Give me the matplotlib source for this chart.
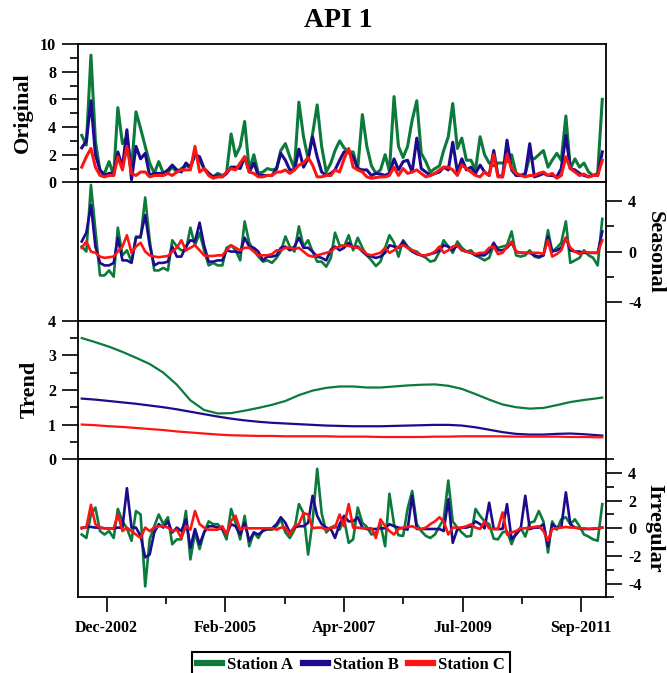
import pandas as pd
import matplotlib
matplotlib.use('Agg')
import matplotlib.pyplot as plt
from matplotlib.ticker import FixedLocator, MultipleLocator

plt.rcParams['font.family'] = ['Liberation Serif', 'DejaVu Serif']
plt.rcParams['font.weight'] = 'bold'
plt.rcParams['axes.unicode_minus'] = False

# monthly series, Jul-2002 .. Feb-2012
months = pd.date_range('2002-07-01', periods=116, freq='MS')
stations = ['Station A', 'Station B', 'Station C']
colors = ['#0b7a3b', '#1d0b8e', '#ff1414']

orig_a = [3.4, 2.7, 9.2, 3.0, 0.8, 0.65, 1.5, 0.5, 5.4, 2.8,
          3.3, 1.0, 5.1, 3.9, 2.6, 1.4, 0.65, 1.5, 0.65, 0.75,
          1.1, 0.75, 1.0, 1.2, 1.1, 2.1, 1.6, 1.0, 0.65, 0.4,
          0.65, 0.5, 0.65, 3.5, 1.9, 2.6, 4.4, 0.9, 2.0, 0.65,
          0.75, 1.0, 0.9, 1.0, 2.3, 2.8, 1.85, 1.0, 5.8, 3.3,
          1.7, 3.5, 5.6, 2.6, 0.75, 1.4, 2.3, 3.0, 2.5, 2.2,
          2.2, 1.0, 4.9, 2.6, 1.2, 0.65, 0.9, 2.0, 0.8, 6.2,
          2.6, 1.8, 2.6, 4.5, 5.9, 2.1, 1.5, 0.75, 1.0, 1.2,
          2.3, 3.3, 5.7, 2.45, 3.2, 1.6, 1.6, 0.9, 3.3, 2.0,
          1.4, 1.2, 1.4, 1.4, 1.5, 2.0, 0.65, 0.5, 0.65, 1.85,
          1.7, 2.0, 2.3, 1.1, 1.6, 2.1, 1.6, 4.8, 1.0, 1.7,
          1.1, 1.4, 0.75, 0.5, 0.65, 6.0]
orig_b = [2.5, 3.0, 5.9, 2.0, 0.9, 0.5, 0.65, 0.65, 2.2, 1.1,
          3.8, 0.2, 2.6, 1.7, 2.1, 0.5, 0.65, 0.65, 0.65, 0.9,
          1.25, 0.9, 0.75, 1.4, 1.1, 2.0, 1.85, 1.0, 0.65, 0.4,
          0.5, 0.4, 0.65, 1.1, 1.1, 1.0, 1.85, 0.75, 1.4, 0.5,
          0.5, 0.5, 0.5, 1.0, 2.1, 1.6, 0.9, 0.9, 2.4, 1.1,
          1.7, 3.3, 1.85, 0.75, 0.5, 0.65, 0.9, 1.6, 2.2, 2.2,
          1.85, 1.0, 0.9, 0.9, 0.5, 0.65, 0.6, 0.5, 0.65, 1.7,
          0.9, 1.5, 1.6, 0.75, 3.2, 1.0, 0.75, 0.5, 0.65, 0.75,
          1.1, 0.9, 2.9, 0.75, 1.7, 0.9, 1.1, 0.65, 1.25, 0.75,
          0.5, 2.3, 0.5, 0.4, 3.05, 0.9, 0.5, 0.5, 0.6, 2.8,
          0.4, 0.5, 0.65, 0.5, 0.5, 0.4, 1.0, 3.4, 1.0, 0.9,
          0.65, 0.5, 0.4, 0.5, 0.5, 2.2]
orig_c = [1.1, 1.85, 2.45, 1.1, 0.5, 0.4, 0.5, 0.5, 1.85, 0.9,
          2.6, 0.65, 0.5, 0.75, 0.75, 0.4, 0.5, 0.5, 0.5, 0.65,
          0.5, 0.75, 0.9, 0.9, 0.9, 2.6, 0.75, 1.0, 0.5, 0.3,
          0.4, 0.4, 0.75, 1.0, 0.9, 1.4, 1.85, 0.75, 0.65, 0.4,
          0.4, 0.5, 0.5, 0.75, 0.75, 0.9, 0.65, 0.9, 1.25, 1.4,
          1.8, 1.25, 0.4, 0.4, 0.5, 0.5, 0.9, 0.75, 1.7, 2.45,
          1.1, 0.9, 0.75, 0.4, 0.3, 0.35, 0.4, 0.4, 0.5, 1.1,
          0.5, 1.0, 0.65, 0.75, 0.9, 0.65, 0.4, 0.5, 0.65, 0.9,
          1.1, 1.1, 0.9, 0.5, 1.25, 1.0, 0.75, 0.5, 0.4, 0.75,
          0.5, 2.0, 0.4, 0.4, 2.0, 1.0, 0.65, 0.5, 0.4, 0.5,
          0.5, 0.65, 0.75, 0.5, 0.65, 0.3, 0.5, 1.85, 1.0, 0.75,
          0.5, 0.6, 0.4, 0.5, 0.5, 1.6]

seas_a = [0.4, 0, 5.3, 1.7, -1.9, -1.9, -1.5, -2.0, 1.9, -0.3,
          0.1, -0.8, 1.2, 1.1, 4.3, 0.9, -1.5, -1.5, -1.3, -1.5,
          0.9, 0.4, 0.1, 0.1, 1.9, 0.5, 1.5, 0.1, -1.1, -0.9,
          -1.1, -1.1, 0.3, 0.5, 0.1, -0.7, 2.4, 0.7, 0.1, -0.4,
          -0.8, -0.7, -0.9, -0.5, 0, 1.2, 0.4, 0, 2.0, 0.4,
          0.9, 0, -0.8, -0.8, -1.2, -0.5, 1.5, 0.5, 0.4, 1.3,
          0.1, 1.1, 0.3, -0.3, -0.7, -1.15, -0.8, 0.3, 1.3, 0.7,
          -0.4, 0.9, 0.4, 0.1, 0, -0.3, -0.5, -0.8, -0.7, 0,
          0.9, 0.4, -0.1, 0.8, 0.3, 0, 0.1, -0.3, -0.5, -0.7,
          -0.5, 0.5, 0.3, 0.4, 0.5, 1.6, -0.3, -0.4, -0.3, 0.1,
          -0.4, -0.5, -0.3, 1.7, 0, 0.3, 0.7, 2.4, -0.9, -0.7,
          -0.5, 0.1, -0.3, -0.5, -1.1, 2.6]
seas_b = [0.8, 1.5, 3.7, 0.4, -0.9, -1.1, -1.1, -0.9, 1.1, -0.7,
          -0.7, -0.9, 1.1, 1.2, 2.9, 0.5, -1.1, -0.9, -0.9, -0.8,
          0.4, -0.4, -0.4, 0.4, 0.9, 0.8, 2.3, 0.5, -0.8, -0.8,
          -0.7, -0.7, 0.1, 0, 0, -0.1, 1.1, 0.4, 0.3, 0,
          -0.7, -0.4, -0.4, -0.3, 0.3, 0.4, 0.1, 0.4, 1.1, 0.3,
          0.3, 0, -0.4, -0.5, -0.7, 0.15, 0.4, 0.1, 0.3, 0.7,
          0.3, 0.4, 0, -0.3, -0.4, -0.5, -0.4, -0.1, 0.5, 0.4,
          0.3, 0.8, 0.3, 0, -0.2, -0.3, -0.3, -0.2, -0.1, 0.1,
          0.5, 0.4, 0.1, 0.5, 0.1, 0, -0.1, -0.3, -0.3, -0.3,
          0, 0.7, 0.1, 0.1, 0.3, 0.7, 0, -0.1, -0.1, -0.1,
          -0.3, -0.4, -0.3, 1.2, 0, 0.1, 0.3, 1.1, 0.1, 0,
          0, -0.1, -0.1, -0.1, -0.1, 1.6]
seas_c = [0.3, 0.8, 0, -0.1, -0.4, -0.5, -0.45, -0.4, 0, 0.4,
          1.3, -0.1, 0.4, 0.7, 0, -0.3, -0.4, -0.45, -0.4, -0.35,
          0, 0.3, 0.9, 0.1, 0.3, 0.5, 0.1, -0.3, -0.35, -0.35,
          -0.3, -0.3, 0.1, 0.5, 0.3, 0.1, 0.3, 0.3, 0, -0.3,
          -0.3, -0.3, -0.2, 0.1, 0.1, 0.3, 0.3, 0.2, 0.3, 0,
          -0.3, -0.4, -0.3, -0.2, -0.1, 0, 0.3, 0.4, 0.5, 0.45,
          0.35, 0.3, 0.1, -0.2, -0.3, -0.2, -0.1, 0.3, -0.1, 0.1,
          0.4, 0.5, 0.3, 0.1, -0.1, -0.3, -0.3, -0.2, 0, 0.4,
          -0.1, 0.1, 0.4, 0.5, 0.1, 0, -0.1, -0.2, -0.1, -0.1,
          0.3, 0.4, -0.2, -0.1, 0.4, 0.8, 0, -0.1, -0.1, -0.1,
          -0.1, -0.1, -0.2, 0.9, -0.4, -0.2, 0.1, 1.1, 0.3, 0,
          -0.2, 0, -0.1, -0.1, -0.1, 0.9]

# trend is smooth, read every three months (plus the last month)
trend_idx = list(range(0, 115, 3)) + [115]
trend_a = [3.5, 3.38, 3.25, 3.1, 2.93, 2.75, 2.5, 2.15, 1.7, 1.42,
           1.32, 1.33, 1.4, 1.48, 1.57, 1.68, 1.85, 1.98, 2.06, 2.1,
           2.1, 2.07, 2.07, 2.1, 2.13, 2.15, 2.16, 2.12, 2.03, 1.88,
           1.72, 1.58, 1.5, 1.46, 1.48, 1.56, 1.65, 1.71, 1.76, 1.78]
trend_b = [1.75, 1.72, 1.68, 1.64, 1.6, 1.55, 1.5, 1.44, 1.37, 1.3,
           1.23, 1.17, 1.12, 1.08, 1.05, 1.03, 1.01, 0.99, 0.97, 0.96,
           0.95, 0.95, 0.95, 0.96, 0.97, 0.98, 0.99, 0.99, 0.97, 0.92,
           0.85, 0.78, 0.73, 0.71, 0.71, 0.73, 0.74, 0.72, 0.69, 0.68]
trend_c = [1.0, 0.98, 0.95, 0.93, 0.9, 0.87, 0.84, 0.8, 0.77, 0.74,
           0.71, 0.69, 0.68, 0.67, 0.67, 0.66, 0.66, 0.66, 0.66, 0.65,
           0.65, 0.65, 0.64, 0.64, 0.64, 0.64, 0.65, 0.65, 0.66, 0.66,
           0.66, 0.66, 0.65, 0.65, 0.65, 0.65, 0.64, 0.64, 0.63, 0.63]

irr_a = [-0.45, -0.7, 1.0, 1.5, -0.2, -0.45, -0.2, -0.7, 1.4, 0.5,
         0, -0.9, 1.25, 1.0, -4.2, -0.8, 0.15, 1.0, 0.3, 0.8,
         -1.15, -0.8, -0.8, 1.25, -2.25, -0.3, -1.5, -0.3, 0.5, 0.3,
         0.3, -0.1, -0.8, 1.4, 0.4, -0.8, 0.9, -1.3, -0.3, -0.7,
         -0.1, -0.1, -0.1, 0.15, 0.65, -0.3, -0.7, -0.1, 1.75, 1.1,
         -1.9, 0.5, 4.3, 1.1, -0.3, 0.05, 0.2, -0.1, 0.65, -1.05,
         -0.8, 1.5, 0.4, 0.1, -0.45, -0.3, 0.3, -1.3, 2.5, 0.3,
         -0.5, -0.55, 1.4, 2.7, 0.3, -0.2, -0.55, -0.7, -0.45, 0.15,
         0.65, 3.45, 0.5, 0.05, -0.3, -0.6, -0.55, 1.4, 0.9, 0.5,
         0.3, -0.75, -0.8, -0.3, -0.2, -1.15, -0.3, 0.05, -0.6, 0.4,
         0.5, 1.25, 0.5, -1.75, 0.5, -0.1, 0.65, 0.8, 0.3, 0.65,
         0.15, -0.45, -0.6, -0.8, -0.9, 1.75]
irr_b = [0, 0.1, 0.1, 0.05, 0.05, 0, 0, 0, 0.05, 0.05,
         2.9, 0.05, 0.05, -0.55, -2.1, -1.9, -0.3, 0.3, 0.05, 0.5,
         -0.3, 0.05, -0.2, 0.65, -1.4, -0.05, -1.15, -0.3, 0.15, 0.15,
         0.05, -0.05, -0.45, 0.3, 0.15, -0.45, 0.4, -0.9, -0.3, -0.45,
         -0.2, -0.05, 0, 0.3, 0.8, 0.4, -0.3, 0.05, 0.15, 0.15,
         0.4, 2.35, 0.9, 0.3, 0.05, -0.05, -0.7, 0.3, 0.9, 0.5,
         0.5, 0.8, 0.05, -0.05, -0.05, -0.05, 0, 0, 0.3, 0.15,
         0.05, 0, -0.1, 2.35, -0.05, -0.05, -0.05, -0.05, -0.05, -0.05,
         -0.2, 2.1, -1.05, -0.05, 0.05, 0.05, 0.15, 0.5, 0.3, 0,
         1.85, -0.05, -0.05, -0.05, 1.75, -0.8, -0.45, -0.05, 2.35, -0.05,
         0.05, 0.05, 0.3, -1.3, 0.3, 0.05, 0.05, 2.6, 0.3, 0.05,
         0, -0.05, -0.05, -0.05, 0, 0.05]
irr_c = [0.05, 0.05, 1.7, 0.3, 0.05, 0, 0, 0, 1.0, -0.2,
         0.05, -0.2, -0.45, -0.7, 0.05, -0.2, 0.05, 0.15, 0.15, 0.05,
         -0.2, -0.1, -0.7, 0.15, -0.1, 1.25, 0.3, 0.05, -0.1, -0.1,
         -0.1, 0.15, -0.45, 0.55, 0.9, -0.1, 0.05, 0, 0, 0,
         0, 0, 0, -0.1, 0.05, 0.05, -0.45, 0.15, 0.3, 1.1,
         1.0, 0, 0.05, 0.05, -0.1, 0.05, 0.05, 1.0, 0.15, 1.75,
         0.05, 0.05, 0, 0, 0, -0.7, 0.65, 0.15, -0.2, -0.45,
         -0.05, 0.05, 0.1, 0.15, 0, -0.05, 0.05, 0.3, 0.5, 0.8,
         0.5, -0.45, 0.05, 0.05, 0.05, 0.15, 0.3, 0.05, -0.05, 0.5,
         0, -0.05, -0.05, 1.15, -0.45, -0.3, -0.2, 0, 0, 0.05,
         0.1, 0.15, -0.2, -0.9, -0.05, 0, 0.05, 0.1, 0.05, 0.05,
         0, 0, -0.05, 0, 0, 0.05]

tick_labels = ['Dec-2002', 'Feb-2005', 'Apr-2007', 'Jul-2009', 'Sep-2011']
tick_start = pd.Timestamp('2002-12-16')
tick_step = pd.Timedelta(days=798)

fig, axs = plt.subplots(4, 1, figsize=(6.67, 6.73), dpi=100, sharex=True)
fig.subplots_adjust(left=0.1174, right=0.9081, top=0.9346, bottom=0.1122, hspace=0)

panels = [
    ([orig_a, orig_b, orig_c], 2.2),
    ([seas_a, seas_b, seas_c], 1.9),
    ([trend_a, trend_b, trend_c], 1.6),
    ([irr_a, irr_b, irr_c], 1.9),
]
trend_dates = months[trend_idx]

for k, (series, lw) in enumerate(panels):
    ax = axs[k]
    x = trend_dates if k == 2 else months
    for vals, col, name in zip(series, colors, stations):
        ax.plot(x, vals, color=col, linewidth=lw, label=name)
    for sp in ax.spines.values():
        sp.set_linewidth(1.3)
    ax.tick_params(axis='y', which='major', direction='out', length=11.5,
                   width=1.2, labelsize=11.5, pad=4.5)
    ax.tick_params(axis='y', which='minor', direction='out', length=5.8, width=1.2)
    ax.tick_params(axis='x', which='both', bottom=False, labelbottom=False)

# Original
axs[0].set_ylim(0, 10)
axs[0].yaxis.set_major_locator(MultipleLocator(2))
axs[0].yaxis.set_minor_locator(MultipleLocator(1))

# Seasonal
axs[1].set_ylim(-5.5, 5.5)
axs[1].yaxis.tick_right()
axs[1].yaxis.set_major_locator(FixedLocator([-4, 0, 4]))
axs[1].yaxis.set_minor_locator(FixedLocator([-2, 2]))

# Trend
axs[2].set_ylim(0, 4)
axs[2].yaxis.set_major_locator(MultipleLocator(1))
axs[2].yaxis.set_minor_locator(MultipleLocator(0.5))

# Irregular
axs[3].set_ylim(-5, 5)
axs[3].yaxis.tick_right()
axs[3].yaxis.set_major_locator(FixedLocator([-4, -2, 0, 2, 4]))
axs[3].yaxis.set_minor_locator(FixedLocator([-5, -3, -1, 1, 3, 5]))

for ax in axs[[1, 3]]:
    ax.tick_params(axis='y', which='both', left=False, right=True)

# shared date axis along the bottom
major_pos = [tick_start + i * tick_step for i in range(len(tick_labels))]
minor_pos = [p + tick_step / 2 for p in major_pos[:-1]]
bottom = axs[3]
bottom.set_xlim(pd.Timestamp('2002-06-08'), pd.Timestamp('2012-02-24'))
bottom.set_xticks(major_pos, tick_labels)
bottom.set_xticks(minor_pos, minor=True)
bottom.tick_params(axis='x', which='major', bottom=True, labelbottom=True,
                   direction='out', length=11, width=1.2, labelsize=11.5, pad=5.5)
bottom.tick_params(axis='x', which='minor', bottom=True, direction='out',
                   length=5.3, width=1.2)

fig.text(0.507, 0.970, 'API 1', ha='center', va='center', fontsize=20, fontweight='bold')
fig.text(0.0345, 0.832, 'Original', ha='center', va='center', rotation=90,
         fontsize=16, fontweight='bold')
fig.text(0.981, 0.6256, 'Seasonal', ha='center', va='center', rotation=270,
         fontsize=16, fontweight='bold')
fig.text(0.045, 0.422, 'Trend', ha='center', va='center', rotation=90,
         fontsize=16, fontweight='bold')
fig.text(0.981, 0.2155, 'Irregular', ha='center', va='center', rotation=270,
         fontsize=16, fontweight='bold')

handles, labels = axs[0].get_legend_handles_labels()
leg = fig.legend(handles, labels, loc='upper center', bbox_to_anchor=(0.526, 0.0312),
                 borderaxespad=0, ncol=3, fancybox=False, edgecolor='black',
                 framealpha=1, prop={'weight': 'bold', 'size': 12}, handlelength=1.5,
                 handletextpad=0.3, columnspacing=0.6, borderpad=0.3)
leg.get_frame().set_linewidth(1.5)
for line in leg.get_lines():
    line.set_linewidth(4.5)

fig.savefig('out.png', dpi=100)
